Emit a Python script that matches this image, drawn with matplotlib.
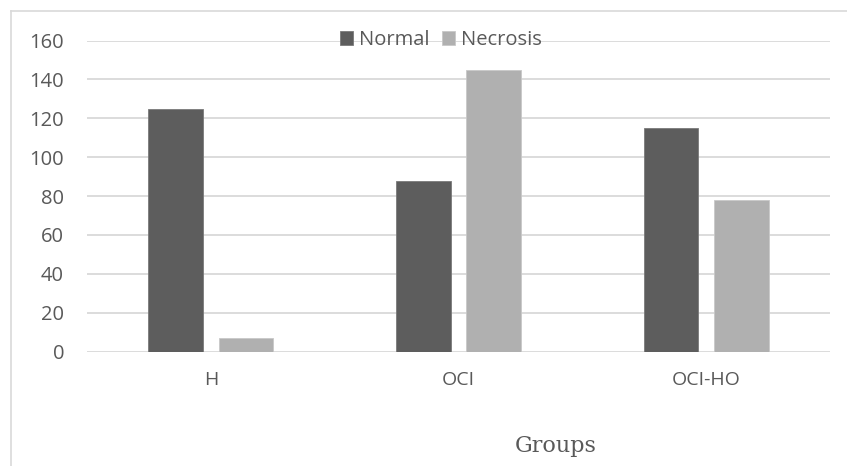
import matplotlib
matplotlib.use("Agg")
import matplotlib.pyplot as plt
import numpy as np
from matplotlib.lines import Line2D

categories = ["H", "OCI", "OCI-HO"]
normal = [125, 88, 115]
necrosis = [7, 145, 78]
series_names = ["Normal", "Necrosis"]
yticks = [0, 20, 40, 60, 80, 100, 120, 140, 160]

W, H = 847, 466
fig = plt.figure(figsize=(W/100, H/100), dpi=100)
fig.patch.set_facecolor("white")

# outer frame (top and left visible)
fig.add_artist(Line2D([11/W, 11/W], [0, 1-11/H], color="#d9d9d9", lw=1.2, transform=fig.transFigure))
fig.add_artist(Line2D([11/W, 1], [1-11/H, 1-11/H], color="#d9d9d9", lw=1.2, transform=fig.transFigure))

left, right = 87/W, 830/W
bottom, top = 1-351.7/H, 1-40.5/H
ax = fig.add_axes([left, bottom, right-left, top-bottom])
x = np.arange(len(categories))
bw = 0.22
off = 0.142
txt = "#595959"
ax.bar(x-off, normal, bw, color="#5d5d5d", edgecolor="#7a7a7a", linewidth=0.6, zorder=3, label=series_names[0])
ax.bar(x+off, necrosis, bw, color="#b0b0b0", edgecolor="#c8c8c8", linewidth=0.6, zorder=3, label=series_names[1])
ax.set_xlim(-0.5, len(categories)-0.5)
ax.set_ylim(0, 160)
ax.set_yticks(yticks)
ax.yaxis.grid(True, color="#d9d9d9", lw=1.3, zorder=0)
ax.set_axisbelow(True)
for s in ax.spines.values():
    s.set_visible(False)
ax.tick_params(length=0)
ax.tick_params(axis="y", pad=16.5, labelsize=14.5, labelcolor=txt)
ax.tick_params(axis="x", pad=14, labelsize=14, labelcolor=txt)
ax.set_xticks(x)
ax.set_xticklabels(categories)
for lab in ax.get_yticklabels() + ax.get_xticklabels():
    lab.set_family("Open Sans")

fig.text(556/W, 1-452/H, "Groups", family="DejaVu Serif", fontsize=16, color=txt, ha="center", va="baseline")

leg = fig.legend(loc="center", bbox_to_anchor=(441/W, 1-40/H), ncol=2, frameon=False,
                 handlelength=0.65, handleheight=0.65, handletextpad=0.3, columnspacing=0.6,
                 borderaxespad=0, borderpad=0,
                 prop={"family": "Open Sans", "size": 14.5})
for t in leg.get_texts():
    t.set_color(txt)

fig.savefig("out.png", dpi=100)
